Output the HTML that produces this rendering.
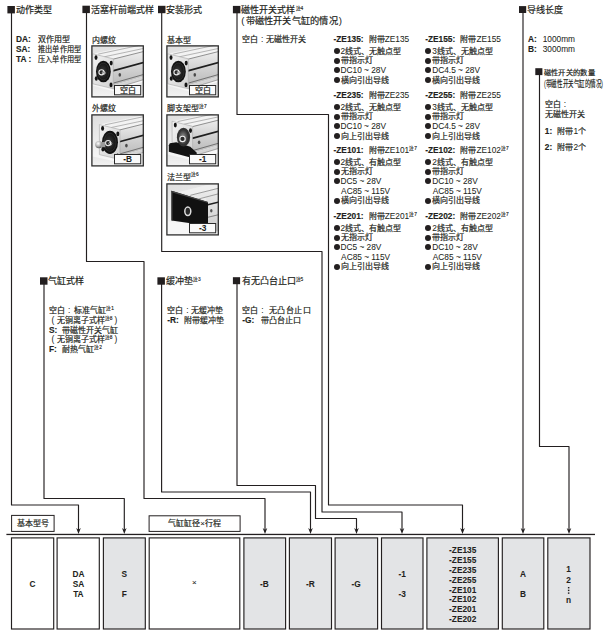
<!DOCTYPE html>
<html lang="zh-CN"><head><meta charset="utf-8"><title>C series model code</title><style>
html,body{margin:0;padding:0;background:#fff;}
body{width:605px;height:632px;position:relative;overflow:hidden;font-family:"Liberation Sans",sans-serif;color:#231f20;}
svg{position:absolute;left:0;top:0;}
.t{position:absolute;white-space:nowrap;line-height:1;-webkit-text-stroke:0.05px #231f20;}
b{-webkit-text-stroke:0.15px #231f20;}
b .k{-webkit-text-stroke:0.05px #231f20;}
.k{display:inline-block;white-space:nowrap;text-align:justify;text-align-last:justify;-webkit-text-stroke:0.2px #231f20;}
.sp{font-size:4.8px;font-weight:normal;-webkit-text-stroke:0.15px #231f20;vertical-align:top;position:relative;top:0.8px;margin-left:0.3px;}

.bu{display:inline-block;width:6px;height:6px;border-radius:50%;background:#231f20;margin-right:1px;vertical-align:-0.3px;}
.cl{display:inline-block;width:1em;text-align:center;}
.pc{display:inline-block;text-align:center;}
</style></head><body>
<svg width="605" height="632" viewBox="0 0 605 632"><defs>
<linearGradient id="bg" x1="0" y1="0" x2="0.3" y2="1">
 <stop offset="0" stop-color="#dedede"/><stop offset="0.55" stop-color="#eeeeee"/><stop offset="1" stop-color="#fbfbfb"/>
</linearGradient>
<linearGradient id="sd" x1="0" y1="0" x2="0" y2="1">
 <stop offset="0" stop-color="#f2f2f2"/><stop offset="1" stop-color="#cdcdcd"/>
</linearGradient>
<linearGradient id="sd2" x1="0" y1="0" x2="0" y2="1">
 <stop offset="0" stop-color="#dedede"/><stop offset="1" stop-color="#b9b9b9"/>
</linearGradient>
<linearGradient id="pl" x1="0" y1="0" x2="1" y2="1">
 <stop offset="0" stop-color="#f4f4f4"/><stop offset="1" stop-color="#cfcfcf"/>
</linearGradient>
<linearGradient id="gr" x1="0" y1="0" x2="0" y2="1">
 <stop offset="0" stop-color="#e4e4e4"/><stop offset="1" stop-color="#f3f3f3"/>
</linearGradient>
<radialGradient id="sph" cx="0.4" cy="0.35" r="0.7">
 <stop offset="0" stop-color="#ffffff"/><stop offset="0.55" stop-color="#b0b0b0"/><stop offset="1" stop-color="#4a4a4a"/>
</radialGradient>
<radialGradient id="dk" cx="0.45" cy="0.5" r="0.55">
 <stop offset="0" stop-color="#3c3c3c"/><stop offset="0.75" stop-color="#141414"/><stop offset="1" stop-color="#0c0c0c"/>
</radialGradient>
<radialGradient id="dk2" cx="0.45" cy="0.5" r="0.55">
 <stop offset="0" stop-color="#9a9a9a"/><stop offset="0.6" stop-color="#555"/><stop offset="1" stop-color="#2a2a2a"/>
</radialGradient>
</defs>
<path d="M11.5 12 L11.5 505 L78.5 505 L78.5 531" fill="none" stroke="#231f20" stroke-width="1.15" stroke-linejoin="round"/>
<path d="M78.5 534 L76.2 528.1 L78.5 529.7 L80.8 528.1 Z" fill="#231f20"/>
<path d="M86.5 12 L86.5 261.5 L144 261.5 L144 498.5 L265 498.5 L265 531" fill="none" stroke="#231f20" stroke-width="1.15" stroke-linejoin="round"/>
<path d="M265 534 L262.7 528.1 L265 529.7 L267.3 528.1 Z" fill="#231f20"/>
<path d="M161.7 12 L161.7 251.5 L322 251.5 L322 512 L402 512 L402 531" fill="none" stroke="#231f20" stroke-width="1.15" stroke-linejoin="round"/>
<path d="M402 534 L399.7 528.1 L402 529.7 L404.3 528.1 Z" fill="#231f20"/>
<path d="M237 12 L237 114.5 L328.5 114.5 L328.5 505 L462.5 505 L462.5 531" fill="none" stroke="#231f20" stroke-width="1.15" stroke-linejoin="round"/>
<path d="M462.5 534 L460.2 528.1 L462.5 529.7 L464.8 528.1 Z" fill="#231f20"/>
<path d="M523 12 L523 531" fill="none" stroke="#231f20" stroke-width="1.15" stroke-linejoin="round"/>
<path d="M523 534 L520.7 528.1 L523 529.7 L525.3 528.1 Z" fill="#231f20"/>
<path d="M539.5 74 L539.5 446.5 L569 446.5 L569 531" fill="none" stroke="#231f20" stroke-width="1.15" stroke-linejoin="round"/>
<path d="M569 534 L566.7 528.1 L569 529.7 L571.3 528.1 Z" fill="#231f20"/>
<path d="M44 283 L44 498.5 L124.3 498.5 L124.3 531" fill="none" stroke="#231f20" stroke-width="1.15" stroke-linejoin="round"/>
<path d="M124.3 534 L122 528.1 L124.3 529.7 L126.6 528.1 Z" fill="#231f20"/>
<path d="M161.6 283 L161.6 492 L310.5 492 L310.5 531" fill="none" stroke="#231f20" stroke-width="1.15" stroke-linejoin="round"/>
<path d="M310.5 534 L308.2 528.1 L310.5 529.7 L312.8 528.1 Z" fill="#231f20"/>
<path d="M237 283 L237 485.5 L315.5 485.5 L315.5 518.5 L356.5 518.5 L356.5 531" fill="none" stroke="#231f20" stroke-width="1.15" stroke-linejoin="round"/>
<path d="M356.5 534 L354.2 528.1 L356.5 529.7 L358.8 528.1 Z" fill="#231f20"/>
<rect x="6.4" y="533.8" width="588.6" height="1.3" fill="#231f20"/>
<rect x="7.4" y="6" width="7.5" height="7.4" fill="#231f20"/>
<rect x="82.4" y="5.7" width="7.5" height="7.4" fill="#231f20"/>
<rect x="158" y="5.8" width="7.5" height="7.4" fill="#231f20"/>
<rect x="232.9" y="5.9" width="7.5" height="7.4" fill="#231f20"/>
<rect x="519" y="6.1" width="7.2" height="6.9" fill="#231f20"/>
<rect x="535.3" y="68.2" width="7.1" height="6.9" fill="#231f20"/>
<rect x="40" y="277.3" width="7.5" height="7.4" fill="#231f20"/>
<rect x="157.4" y="277.3" width="7.5" height="7.4" fill="#231f20"/>
<rect x="232.9" y="277.2" width="7.2" height="7" fill="#231f20"/>
<rect x="11.5" y="537.9" width="42.2" height="91.1" fill="#fff" stroke="#231f20" stroke-width="1.15"/>
<rect x="57.1" y="537.9" width="42.2" height="91.1" fill="#fff" stroke="#231f20" stroke-width="1.15"/>
<rect x="103.4" y="537.9" width="41.9" height="91.1" fill="#e3e4e6" stroke="#231f20" stroke-width="1.15"/>
<rect x="149.2" y="537.9" width="90.6" height="91.1" fill="#fff" stroke="#231f20" stroke-width="1.15"/>
<rect x="243.9" y="537.9" width="41.7" height="91.1" fill="#e3e4e6" stroke="#231f20" stroke-width="1.15"/>
<rect x="289.4" y="537.9" width="42.1" height="91.1" fill="#e3e4e6" stroke="#231f20" stroke-width="1.15"/>
<rect x="335.1" y="537.9" width="42.5" height="91.1" fill="#e3e4e6" stroke="#231f20" stroke-width="1.15"/>
<rect x="381.5" y="537.9" width="41.5" height="91.1" fill="#e3e4e6" stroke="#231f20" stroke-width="1.15"/>
<rect x="426.9" y="537.9" width="71.5" height="91.1" fill="#e3e4e6" stroke="#231f20" stroke-width="1.15"/>
<rect x="502.3" y="537.9" width="41.5" height="91.1" fill="#e3e4e6" stroke="#231f20" stroke-width="1.15"/>
<rect x="547.8" y="537.9" width="42.2" height="91.1" fill="#e3e4e6" stroke="#231f20" stroke-width="1.15"/>
<rect x="11.6" y="515.4" width="42.5" height="16" fill="#fff" stroke="#231f20" stroke-width="1"/>
<rect x="149.1" y="515.8" width="91" height="15.6" fill="#fff" stroke="#231f20" stroke-width="1"/>
<g transform="translate(91.3 45.3)"><clipPath id="cpa"><rect x="0" y="0" width="52.6" height="52.2"/></clipPath><g clip-path="url(#cpa)"><rect x="0" y="0" width="52.6" height="52.2" fill="url(#bg)"/><path d="M0 40 L22 46 L53 36 L53 52 L0 52 Z" fill="url(#gr)"/><g transform="translate(0 0)"><path d="M1.5 8.5 L60 -4 L60 9 L22 18 L22 13.5 Z" fill="#f3f3f3"/><path d="M22 13.5 L60 4 L60 15 L22 25.5 Z" fill="url(#sd)"/><path d="M22 25.5 L60 15 L60 29 L22 40 Z" fill="url(#sd2)"/><path d="M22 40 L60 29 L60 32 L22 43.5 Z" fill="#d4d4d4"/><path d="M7 8.8 L60 -2.5 M13 11.5 L60 1.5" stroke="#8a8a8a" stroke-width="0.6" fill="none"/><path d="M22 13.8 L60 4.3" stroke="#6a6a6a" stroke-width="0.7" fill="none"/><path d="M21.5 25.6 L60 15.2" stroke="#1e1e1e" stroke-width="1.7" fill="none"/><path d="M22 37.8 L60 27" stroke="#5a5a5a" stroke-width="0.8" fill="none"/><path d="M22 43.5 L60 32" stroke="#777" stroke-width="0.6" fill="none"/><ellipse cx="28.5" cy="29.5" rx="1.3" ry="1.9" fill="#4a4a4a"/><path d="M1.5 8.5 L22 13.5 L22 43.5 L1.5 38.5 Z" fill="url(#pl)" stroke="#9a9a9a" stroke-width="0.5"/><ellipse cx="4.7" cy="12.3" rx="1.5" ry="2.3" fill="#151515"/><ellipse cx="19.9" cy="17.8" rx="1.5" ry="2.3" fill="#151515"/><ellipse cx="5.0" cy="33.2" rx="1.5" ry="2.3" fill="#151515"/><ellipse cx="19.7" cy="39.6" rx="1.5" ry="2.3" fill="#151515"/><ellipse cx="12.1" cy="26.2" rx="7.4" ry="10.8" fill="url(#dk)"/><ellipse cx="12.1" cy="26.2" rx="5.6" ry="8.4" fill="none" stroke="#3a3a3a" stroke-width="0.6"/><circle cx="10.2" cy="27" r="2.6" fill="#2a2a2a" stroke="#eeeeee" stroke-width="1.1"/><circle cx="12.4" cy="27.6" r="1.5" fill="none" stroke="#d0d0d0" stroke-width="0.8"/></g></g><rect x="0.6" y="0.6" width="51.4" height="51" fill="none" stroke="#2e2e2e" stroke-width="1.3"/><rect x="23.2" y="40.2" width="26.2" height="9.3" fill="#fafafa" stroke="#2a2a2a" stroke-width="1"/></g>
<g transform="translate(91.3 114.3)"><clipPath id="cpb"><rect x="0" y="0" width="52.6" height="52.2"/></clipPath><g clip-path="url(#cpb)"><rect x="0" y="0" width="52.6" height="52.2" fill="url(#bg)"/><path d="M0 42 L28 48 L53 40 L53 52 L0 52 Z" fill="url(#gr)"/><g transform="translate(6.6 1.8)"><path d="M1.5 8.5 L60 -4 L60 9 L22 18 L22 13.5 Z" fill="#f3f3f3"/><path d="M22 13.5 L60 4 L60 15 L22 25.5 Z" fill="url(#sd)"/><path d="M22 25.5 L60 15 L60 29 L22 40 Z" fill="url(#sd2)"/><path d="M22 40 L60 29 L60 32 L22 43.5 Z" fill="#d4d4d4"/><path d="M7 8.8 L60 -2.5 M13 11.5 L60 1.5" stroke="#8a8a8a" stroke-width="0.6" fill="none"/><path d="M22 13.8 L60 4.3" stroke="#6a6a6a" stroke-width="0.7" fill="none"/><path d="M21.5 25.6 L60 15.2" stroke="#1e1e1e" stroke-width="1.7" fill="none"/><path d="M22 37.8 L60 27" stroke="#5a5a5a" stroke-width="0.8" fill="none"/><path d="M22 43.5 L60 32" stroke="#777" stroke-width="0.6" fill="none"/><ellipse cx="28.5" cy="29.5" rx="1.3" ry="1.9" fill="#4a4a4a"/><path d="M1.5 8.5 L22 13.5 L22 43.5 L1.5 38.5 Z" fill="url(#pl)" stroke="#9a9a9a" stroke-width="0.5"/><ellipse cx="4.7" cy="12.3" rx="1.5" ry="2.3" fill="#151515"/><ellipse cx="19.9" cy="17.8" rx="1.5" ry="2.3" fill="#151515"/><ellipse cx="5.0" cy="33.2" rx="1.5" ry="2.3" fill="#151515"/><ellipse cx="19.7" cy="39.6" rx="1.5" ry="2.3" fill="#151515"/><ellipse cx="12.1" cy="26.2" rx="7.99" ry="11.66" fill="url(#dk)"/><ellipse cx="12.1" cy="26.2" rx="6.05" ry="9.07" fill="none" stroke="#3a3a3a" stroke-width="0.6"/><circle cx="10.2" cy="27" r="2.6" fill="#2a2a2a" stroke="#eeeeee" stroke-width="1.1"/><circle cx="12.4" cy="27.6" r="1.5" fill="none" stroke="#d0d0d0" stroke-width="0.8"/></g><circle cx="7.6" cy="30.3" r="3.7" fill="url(#sph)"/><path d="M9.5 28 L14 27.5 L14 33 L9.5 32.8 Z" fill="#9a9a9a"/></g><rect x="0.6" y="0.6" width="51.4" height="51" fill="none" stroke="#2e2e2e" stroke-width="1.3"/><rect x="23.2" y="40.2" width="26.2" height="9.3" fill="#fafafa" stroke="#2a2a2a" stroke-width="1"/></g>
<g transform="translate(166.3 45.3)"><clipPath id="cpc"><rect x="0" y="0" width="52.6" height="52.2"/></clipPath><g clip-path="url(#cpc)"><rect x="0" y="0" width="52.6" height="52.2" fill="url(#bg)"/><path d="M0 40 L22 46 L53 36 L53 52 L0 52 Z" fill="url(#gr)"/><g transform="translate(0 0)"><path d="M1.5 8.5 L60 -4 L60 9 L22 18 L22 13.5 Z" fill="#f3f3f3"/><path d="M22 13.5 L60 4 L60 15 L22 25.5 Z" fill="url(#sd)"/><path d="M22 25.5 L60 15 L60 29 L22 40 Z" fill="url(#sd2)"/><path d="M22 40 L60 29 L60 32 L22 43.5 Z" fill="#d4d4d4"/><path d="M7 8.8 L60 -2.5 M13 11.5 L60 1.5" stroke="#8a8a8a" stroke-width="0.6" fill="none"/><path d="M22 13.8 L60 4.3" stroke="#6a6a6a" stroke-width="0.7" fill="none"/><path d="M21.5 25.6 L60 15.2" stroke="#1e1e1e" stroke-width="1.7" fill="none"/><path d="M22 37.8 L60 27" stroke="#5a5a5a" stroke-width="0.8" fill="none"/><path d="M22 43.5 L60 32" stroke="#777" stroke-width="0.6" fill="none"/><ellipse cx="28.5" cy="29.5" rx="1.3" ry="1.9" fill="#4a4a4a"/><path d="M1.5 8.5 L22 13.5 L22 43.5 L1.5 38.5 Z" fill="url(#pl)" stroke="#9a9a9a" stroke-width="0.5"/><ellipse cx="4.7" cy="12.3" rx="1.5" ry="2.3" fill="#151515"/><ellipse cx="19.9" cy="17.8" rx="1.5" ry="2.3" fill="#151515"/><ellipse cx="5.0" cy="33.2" rx="1.5" ry="2.3" fill="#151515"/><ellipse cx="19.7" cy="39.6" rx="1.5" ry="2.3" fill="#151515"/><ellipse cx="12.1" cy="26.2" rx="7.4" ry="10.8" fill="url(#dk)"/><ellipse cx="12.1" cy="26.2" rx="5.6" ry="8.4" fill="none" stroke="#3a3a3a" stroke-width="0.6"/><circle cx="10.2" cy="27" r="2.6" fill="#2a2a2a" stroke="#eeeeee" stroke-width="1.1"/><circle cx="12.4" cy="27.6" r="1.5" fill="none" stroke="#d0d0d0" stroke-width="0.8"/></g></g><rect x="0.6" y="0.6" width="51.4" height="51" fill="none" stroke="#2e2e2e" stroke-width="1.3"/><rect x="23.2" y="40.2" width="26.2" height="9.3" fill="#fafafa" stroke="#2a2a2a" stroke-width="1"/></g>
<g transform="translate(166.3 114.3)"><clipPath id="cpd"><rect x="0" y="0" width="52.6" height="52.2"/></clipPath><g clip-path="url(#cpd)"><rect x="0" y="0" width="52.6" height="52.2" fill="url(#bg)"/><path d="M0 40 L26 46 L53 38 L53 52 L0 52 Z" fill="url(#gr)"/><g transform="translate(4.3 -1.5)"><path d="M1.5 8.5 L60 -4 L60 9 L22 18 L22 13.5 Z" fill="#f3f3f3"/><path d="M22 13.5 L60 4 L60 15 L22 25.5 Z" fill="url(#sd)"/><path d="M22 25.5 L60 15 L60 29 L22 40 Z" fill="url(#sd2)"/><path d="M22 40 L60 29 L60 32 L22 43.5 Z" fill="#d4d4d4"/><path d="M7 8.8 L60 -2.5 M13 11.5 L60 1.5" stroke="#8a8a8a" stroke-width="0.6" fill="none"/><path d="M22 13.8 L60 4.3" stroke="#6a6a6a" stroke-width="0.7" fill="none"/><path d="M21.5 25.6 L60 15.2" stroke="#1e1e1e" stroke-width="1.7" fill="none"/><path d="M22 37.8 L60 27" stroke="#5a5a5a" stroke-width="0.8" fill="none"/><path d="M22 43.5 L60 32" stroke="#777" stroke-width="0.6" fill="none"/><ellipse cx="28.5" cy="29.5" rx="1.3" ry="1.9" fill="#4a4a4a"/><path d="M1.5 8.5 L22 13.5 L22 43.5 L1.5 38.5 Z" fill="url(#pl)" stroke="#9a9a9a" stroke-width="0.5"/><ellipse cx="4.7" cy="12.3" rx="1.5" ry="2.3" fill="#151515"/><ellipse cx="19.9" cy="17.8" rx="1.5" ry="2.3" fill="#151515"/><ellipse cx="5.0" cy="33.2" rx="1.5" ry="2.3" fill="#151515"/><ellipse cx="19.7" cy="39.6" rx="1.5" ry="2.3" fill="#151515"/></g><path d="M3.5 29 L10 28 L24 32.5 L30.5 38.5 L30 43 L27 44 L2.5 37.5 L2.5 31 Z" fill="#121212"/><ellipse cx="17.2" cy="22.9" rx="6.6" ry="9.4" fill="#333"/><ellipse cx="17.2" cy="22.9" rx="5" ry="7.4" fill="url(#dk2)"/><circle cx="16.2" cy="24.6" r="2.7" fill="#2a2a2a" stroke="#eeeeee" stroke-width="1.1"/></g><rect x="0.6" y="0.6" width="51.4" height="51" fill="none" stroke="#2e2e2e" stroke-width="1.3"/><rect x="23.2" y="40.2" width="26.2" height="9.3" fill="#fafafa" stroke="#2a2a2a" stroke-width="1"/></g>
<g transform="translate(166.3 183.3)"><clipPath id="cpe"><rect x="0" y="0" width="52.6" height="52.2"/></clipPath><g clip-path="url(#cpe)"><rect x="0" y="0" width="52.6" height="52.2" fill="url(#bg)"/><path d="M0 38 L42 44 L53 44 L53 52 L0 52 Z" fill="#f7f7f7"/><path d="M12 9 L60 -3 L60 48 L40 48 L40 14 Z" fill="url(#sd)"/><path d="M12 9 L60 -3 L60 3 L26 12 Z" fill="#f0f0f0"/><path d="M24 12 L60 3 M31 16 L60 8.5" stroke="#7a7a7a" stroke-width="0.7" fill="none"/><path d="M41.5 21.5 L60 17" stroke="#1e1e1e" stroke-width="1.5" fill="none"/><path d="M41.5 34 L60 29.5" stroke="#6a6a6a" stroke-width="0.8" fill="none"/><ellipse cx="45" cy="27.5" rx="1.2" ry="1.8" fill="#555"/><path d="M5.2 7.5 L41.7 18.6 L41.7 42.5 L5.2 37.1 Z" fill="#111"/><path d="M5.2 7.5 L41.7 18.6 L41.7 19.8 L5.2 8.9 Z" fill="#454545"/><path d="M5.2 7.5 L6.4 8.2 L6.4 37.3 L5.2 37.1 Z" fill="#333"/><ellipse cx="21.5" cy="28" rx="3" ry="4.2" fill="#2a2a2a" stroke="#dcdcdc" stroke-width="1.5"/></g><rect x="0.6" y="0.6" width="51.4" height="51" fill="none" stroke="#2e2e2e" stroke-width="1.3"/><rect x="23.2" y="40.2" width="26.2" height="9.3" fill="#fafafa" stroke="#2a2a2a" stroke-width="1"/></g>
<rect x="567.9" y="587" width="1.5" height="1.4" fill="#231f20"/><rect x="567.9" y="589.7" width="1.5" height="1.4" fill="#231f20"/><rect x="567.9" y="592.4" width="1.5" height="1.4" fill="#231f20"/>
</svg>
<div class="t" style="left:114.6px;top:86.63px;width:26px;text-align:center;font-size:8px;"><span class="k" style="width:16px;font-size:8px">空白</span></div>
<div class="t" style="left:114.6px;top:155.37px;width:26px;text-align:center;font-size:8.3px;font-weight:bold;">-B</div>
<div class="t" style="left:189.6px;top:86.63px;width:26px;text-align:center;font-size:8px;"><span class="k" style="width:16px;font-size:8px">空白</span></div>
<div class="t" style="left:189.6px;top:155.37px;width:26px;text-align:center;font-size:8.3px;font-weight:bold;">-1</div>
<div class="t" style="left:189.6px;top:224.37px;width:26px;text-align:center;font-size:8.3px;font-weight:bold;">-3</div>
<div class="t" style="left:15.9px;top:5.87px;font-size:9.36px;"><span class="k" style="width:36px;font-size:9px">动作类型</span></div>
<div class="t" style="left:91px;top:5.87px;font-size:9.36px;"><span class="k" style="width:63px;font-size:9px">活塞杆前端式样</span></div>
<div class="t" style="left:166.3px;top:5.87px;font-size:9.36px;"><span class="k" style="width:36px;font-size:9px">安装形式</span></div>
<div class="t" style="left:241.3px;top:5.87px;font-size:9.36px;"><span class="k" style="width:54px;font-size:9px">磁性开关式样</span><span class="sp"><span class="k" style="width:4.8px;font-size:4.8px">注</span>4</span></div>
<div class="t" style="left:240px;top:15.7px;font-size:9.57px;"><span class="pc" style="width:5.5px">(</span><span class="k" style="width:92px;font-size:9.2px">带磁性开关气缸的情况</span><span class="pc" style="width:5.5px">)</span></div>
<div class="t" style="left:527px;top:5.87px;font-size:9.36px;"><span class="k" style="width:36px;font-size:9px">导线长度</span></div>
<div class="t" style="left:543.5px;top:68.77px;font-size:7.59px;"><span class="k" style="width:51.1px;font-size:7.3px">磁性开关的数量</span></div>
<div class="t" style="left:543.5px;top:78.7px;font-size:9.57px;transform:scaleX(0.6);transform-origin:0 0;">(<span class="k" style="width:92px;font-size:9.2px">带磁性开关气缸的情况</span>)</div>
<div class="t" style="left:16px;top:35.16px;font-size:8.32px;"><b>DA:</b></div>
<div class="t" style="left:37.8px;top:35.16px;font-size:8.32px;"><span class="k" style="width:32px;font-size:8px">双作用型</span></div>
<div class="t" style="left:16px;top:45.06px;font-size:8.32px;"><b>SA:</b></div>
<div class="t" style="left:37.8px;top:45.06px;font-size:8.32px;transform:scaleX(0.9);transform-origin:0 0;"><span class="k" style="width:48px;font-size:8px">推出单作用型</span></div>
<div class="t" style="left:16px;top:54.86px;font-size:8.32px;"><b>TA :</b></div>
<div class="t" style="left:37.8px;top:54.86px;font-size:8.32px;transform:scaleX(0.9);transform-origin:0 0;"><span class="k" style="width:48px;font-size:8px">压入单作用型</span></div>
<div class="t" style="left:92px;top:35.56px;font-size:8.32px;"><span class="k" style="width:24px;font-size:8px">内螺纹</span></div>
<div class="t" style="left:92px;top:104.36px;font-size:8.32px;"><span class="k" style="width:24px;font-size:8px">外螺纹</span></div>
<div class="t" style="left:167px;top:35.56px;font-size:8.32px;"><span class="k" style="width:24px;font-size:8px">基本型</span></div>
<div class="t" style="left:167px;top:104.36px;font-size:8.32px;"><span class="k" style="width:32px;font-size:8px">脚支架型</span><span class="sp"><span class="k" style="width:4.8px;font-size:4.8px">注</span>7</span></div>
<div class="t" style="left:167px;top:172.56px;font-size:8.32px;"><span class="k" style="width:24px;font-size:8px">法兰型</span><span class="sp"><span class="k" style="width:4.8px;font-size:4.8px">注</span>6</span></div>
<div class="t" style="left:241.9px;top:35.16px;font-size:8.32px;"><span class="k" style="width:16px;font-size:8px">空白</span><span class="cl">:</span></div>
<div class="t" style="left:265.9px;top:35.16px;font-size:8.32px;"><span class="k" style="width:40px;font-size:8px">无磁性开关</span></div>
<div class="t" style="left:333.5px;top:35.06px;font-size:8.32px;"><b>-ZE135:</b></div>
<div class="t" style="left:368.7px;top:35.06px;font-size:8.32px;"><span class="k" style="width:16px;font-size:8px">附带</span>ZE135</div>
<div class="t" style="left:333.5px;top:46.66px;font-size:8.32px;"><span class="bu"></span>2<span class="k" style="width:56px;font-size:8px">线式、无触点型</span></div>
<div class="t" style="left:333.5px;top:56.36px;font-size:8.32px;"><span class="bu"></span><span class="k" style="width:32px;font-size:8px">带指示灯</span></div>
<div class="t" style="left:333.5px;top:66.06px;font-size:8.32px;"><span class="bu"></span>DC10 ~ 28V</div>
<div class="t" style="left:333.5px;top:75.76px;font-size:8.32px;"><span class="bu"></span><span class="k" style="width:48px;font-size:8px">横向引出导线</span></div>
<div class="t" style="left:425.2px;top:35.06px;font-size:8.32px;"><b>-ZE155:</b></div>
<div class="t" style="left:460.4px;top:35.06px;font-size:8.32px;"><span class="k" style="width:16px;font-size:8px">附带</span>ZE155</div>
<div class="t" style="left:425.2px;top:46.66px;font-size:8.32px;"><span class="bu"></span>3<span class="k" style="width:56px;font-size:8px">线式、无触点型</span></div>
<div class="t" style="left:425.2px;top:56.36px;font-size:8.32px;"><span class="bu"></span><span class="k" style="width:32px;font-size:8px">带指示灯</span></div>
<div class="t" style="left:425.2px;top:66.06px;font-size:8.32px;"><span class="bu"></span>DC4.5 ~ 28V</div>
<div class="t" style="left:425.2px;top:75.76px;font-size:8.32px;"><span class="bu"></span><span class="k" style="width:48px;font-size:8px">横向引出导线</span></div>
<div class="t" style="left:333.5px;top:90.96px;font-size:8.32px;"><b>-ZE235:</b></div>
<div class="t" style="left:368.7px;top:90.96px;font-size:8.32px;"><span class="k" style="width:16px;font-size:8px">附带</span>ZE235</div>
<div class="t" style="left:333.5px;top:102.56px;font-size:8.32px;"><span class="bu"></span>2<span class="k" style="width:56px;font-size:8px">线式、无触点型</span></div>
<div class="t" style="left:333.5px;top:112.26px;font-size:8.32px;"><span class="bu"></span><span class="k" style="width:32px;font-size:8px">带指示灯</span></div>
<div class="t" style="left:333.5px;top:121.96px;font-size:8.32px;"><span class="bu"></span>DC10 ~ 28V</div>
<div class="t" style="left:333.5px;top:131.66px;font-size:8.32px;"><span class="bu"></span><span class="k" style="width:48px;font-size:8px">向上引出导线</span></div>
<div class="t" style="left:425.2px;top:90.96px;font-size:8.32px;"><b>-ZE255:</b></div>
<div class="t" style="left:460.4px;top:90.96px;font-size:8.32px;"><span class="k" style="width:16px;font-size:8px">附带</span>ZE255</div>
<div class="t" style="left:425.2px;top:102.56px;font-size:8.32px;"><span class="bu"></span>3<span class="k" style="width:56px;font-size:8px">线式、无触点型</span></div>
<div class="t" style="left:425.2px;top:112.26px;font-size:8.32px;"><span class="bu"></span><span class="k" style="width:32px;font-size:8px">带指示灯</span></div>
<div class="t" style="left:425.2px;top:121.96px;font-size:8.32px;"><span class="bu"></span>DC4.5 ~ 28V</div>
<div class="t" style="left:425.2px;top:131.66px;font-size:8.32px;"><span class="bu"></span><span class="k" style="width:48px;font-size:8px">向上引出导线</span></div>
<div class="t" style="left:333.5px;top:145.96px;font-size:8.32px;"><b>-ZE101:</b></div>
<div class="t" style="left:368.7px;top:145.96px;font-size:8.32px;"><span class="k" style="width:16px;font-size:8px">附带</span>ZE101<span class="sp"><span class="k" style="width:4.8px;font-size:4.8px">注</span>7</span></div>
<div class="t" style="left:333.5px;top:157.56px;font-size:8.32px;"><span class="bu"></span>2<span class="k" style="width:56px;font-size:8px">线式、有触点型</span></div>
<div class="t" style="left:333.5px;top:167.26px;font-size:8.32px;"><span class="bu"></span><span class="k" style="width:32px;font-size:8px">无指示灯</span></div>
<div class="t" style="left:333.5px;top:176.96px;font-size:8.32px;"><span class="bu"></span>DC5 ~ 28V</div>
<div class="t" style="left:341.1px;top:186.66px;font-size:8.32px;">AC85 ~ 115V</div>
<div class="t" style="left:333.5px;top:196.36px;font-size:8.32px;"><span class="bu"></span><span class="k" style="width:48px;font-size:8px">横向引出导线</span></div>
<div class="t" style="left:425.2px;top:145.96px;font-size:8.32px;"><b>-ZE102:</b></div>
<div class="t" style="left:460.4px;top:145.96px;font-size:8.32px;"><span class="k" style="width:16px;font-size:8px">附带</span>ZE102<span class="sp"><span class="k" style="width:4.8px;font-size:4.8px">注</span>7</span></div>
<div class="t" style="left:425.2px;top:157.56px;font-size:8.32px;"><span class="bu"></span>2<span class="k" style="width:56px;font-size:8px">线式、有触点型</span></div>
<div class="t" style="left:425.2px;top:167.26px;font-size:8.32px;"><span class="bu"></span><span class="k" style="width:32px;font-size:8px">带指示灯</span></div>
<div class="t" style="left:425.2px;top:176.96px;font-size:8.32px;"><span class="bu"></span>DC10 ~ 28V</div>
<div class="t" style="left:432.8px;top:186.66px;font-size:8.32px;">AC85 ~ 115V</div>
<div class="t" style="left:425.2px;top:196.36px;font-size:8.32px;"><span class="bu"></span><span class="k" style="width:48px;font-size:8px">横向引出导线</span></div>
<div class="t" style="left:333.5px;top:211.96px;font-size:8.32px;"><b>-ZE201:</b></div>
<div class="t" style="left:368.7px;top:211.96px;font-size:8.32px;"><span class="k" style="width:16px;font-size:8px">附带</span>ZE201<span class="sp"><span class="k" style="width:4.8px;font-size:4.8px">注</span>7</span></div>
<div class="t" style="left:333.5px;top:223.56px;font-size:8.32px;"><span class="bu"></span>2<span class="k" style="width:56px;font-size:8px">线式、有触点型</span></div>
<div class="t" style="left:333.5px;top:233.26px;font-size:8.32px;"><span class="bu"></span><span class="k" style="width:32px;font-size:8px">无指示灯</span></div>
<div class="t" style="left:333.5px;top:242.96px;font-size:8.32px;"><span class="bu"></span>DC5 ~ 28V</div>
<div class="t" style="left:341.1px;top:252.66px;font-size:8.32px;">AC85 ~ 115V</div>
<div class="t" style="left:333.5px;top:262.36px;font-size:8.32px;"><span class="bu"></span><span class="k" style="width:48px;font-size:8px">向上引出导线</span></div>
<div class="t" style="left:425.2px;top:211.96px;font-size:8.32px;"><b>-ZE202:</b></div>
<div class="t" style="left:460.4px;top:211.96px;font-size:8.32px;"><span class="k" style="width:16px;font-size:8px">附带</span>ZE202<span class="sp"><span class="k" style="width:4.8px;font-size:4.8px">注</span>7</span></div>
<div class="t" style="left:425.2px;top:223.56px;font-size:8.32px;"><span class="bu"></span>2<span class="k" style="width:56px;font-size:8px">线式、有触点型</span></div>
<div class="t" style="left:425.2px;top:233.26px;font-size:8.32px;"><span class="bu"></span><span class="k" style="width:32px;font-size:8px">带指示灯</span></div>
<div class="t" style="left:425.2px;top:242.96px;font-size:8.32px;"><span class="bu"></span>DC10 ~ 28V</div>
<div class="t" style="left:432.8px;top:252.66px;font-size:8.32px;">AC85 ~ 115V</div>
<div class="t" style="left:425.2px;top:262.36px;font-size:8.32px;"><span class="bu"></span><span class="k" style="width:48px;font-size:8px">向上引出导线</span></div>
<div class="t" style="left:528px;top:35.16px;font-size:8.32px;"><b>A:</b></div>
<div class="t" style="left:542.7px;top:35.16px;font-size:8.32px;">1000mm</div>
<div class="t" style="left:528px;top:45.06px;font-size:8.32px;"><b>B:</b></div>
<div class="t" style="left:542.7px;top:45.06px;font-size:8.32px;">3000mm</div>
<div class="t" style="left:544.8px;top:100.16px;font-size:8.32px;"><span class="k" style="width:16px;font-size:8px">空白</span><span class="cl">:</span></div>
<div class="t" style="left:544.8px;top:110.36px;font-size:8.32px;"><span class="k" style="width:40px;font-size:8px">无磁性开关</span></div>
<div class="t" style="left:544.8px;top:126.96px;font-size:8.32px;"><b>1:</b></div>
<div class="t" style="left:557.4px;top:126.96px;font-size:8.32px;"><span class="k" style="width:16px;font-size:8px">附带</span>1<span class="k" style="width:8px;font-size:8px">个</span></div>
<div class="t" style="left:544.8px;top:142.76px;font-size:8.32px;"><b>2:</b></div>
<div class="t" style="left:557.4px;top:142.76px;font-size:8.32px;"><span class="k" style="width:16px;font-size:8px">附带</span>2<span class="k" style="width:8px;font-size:8px">个</span></div>
<div class="t" style="left:48.2px;top:276.77px;font-size:9.36px;"><span class="k" style="width:36px;font-size:9px">气缸式样</span></div>
<div class="t" style="left:165.8px;top:276.77px;font-size:9.36px;"><span class="k" style="width:27px;font-size:9px">缓冲垫</span><span class="sp"><span class="k" style="width:4.8px;font-size:4.8px">注</span>3</span></div>
<div class="t" style="left:241.5px;top:276.77px;font-size:9.36px;"><span class="k" style="width:54px;font-size:9px">有无凸台止口</span><span class="sp"><span class="k" style="width:4.8px;font-size:4.8px">注</span>5</span></div>
<div class="t" style="left:49px;top:305.86px;font-size:8.32px;"><span class="k" style="width:16px;font-size:8px">空白</span><span class="cl">:</span></div>
<div class="t" style="left:74.1px;top:305.86px;font-size:8.32px;"><span class="k" style="width:32px;font-size:8px">标准气缸</span><span class="sp"><span class="k" style="width:4.8px;font-size:4.8px">注</span>1</span></div>
<div class="t" style="left:49px;top:315.76px;font-size:8.32px;"><span class="pc" style="width:7.7px">(</span><span class="k" style="width:48px;font-size:8px">无铜离子式样</span><span class="sp"><span class="k" style="width:4.8px;font-size:4.8px">注</span>8</span><span class="pc" style="width:7px">)</span></div>
<div class="t" style="left:49px;top:325.56px;font-size:8.32px;"><b>S:</b></div>
<div class="t" style="left:62.2px;top:325.56px;font-size:8.32px;"><span class="k" style="width:56px;font-size:8px">带磁性开关气缸</span></div>
<div class="t" style="left:49px;top:335.36px;font-size:8.32px;"><span class="pc" style="width:7.7px">(</span><span class="k" style="width:48px;font-size:8px">无铜离子式样</span><span class="sp"><span class="k" style="width:4.8px;font-size:4.8px">注</span>8</span><span class="pc" style="width:7px">)</span></div>
<div class="t" style="left:49px;top:345.16px;font-size:8.32px;"><b>F:</b></div>
<div class="t" style="left:62.2px;top:345.16px;font-size:8.32px;"><span class="k" style="width:32px;font-size:8px">耐热气缸</span><span class="sp"><span class="k" style="width:4.8px;font-size:4.8px">注</span>2</span></div>
<div class="t" style="left:167.2px;top:305.86px;font-size:8.32px;"><span class="k" style="width:16px;font-size:8px">空白</span><span class="cl">:</span></div>
<div class="t" style="left:191.4px;top:305.86px;font-size:8.32px;"><span class="k" style="width:32px;font-size:8px">无缓冲垫</span></div>
<div class="t" style="left:167.2px;top:315.66px;font-size:8.32px;"><b>-R:</b></div>
<div class="t" style="left:183.8px;top:315.66px;font-size:8.32px;"><span class="k" style="width:40px;font-size:8px">附带缓冲垫</span></div>
<div class="t" style="left:242.3px;top:305.96px;font-size:8.32px;"><span class="k" style="width:16px;font-size:8px">空白</span><span class="cl">:</span></div>
<div class="t" style="left:268.7px;top:305.96px;font-size:8.32px;letter-spacing:0.6px;"><span class="k" style="width:40px;font-size:8px">无凸台止口</span></div>
<div class="t" style="left:242.3px;top:315.76px;font-size:8.32px;"><b>-G:</b></div>
<div class="t" style="left:260.8px;top:315.76px;font-size:8.32px;"><span class="k" style="width:40px;font-size:8px">带凸台止口</span></div>
<div class="t" style="left:11.8px;top:519.83px;width:42px;text-align:center;font-size:8px;"><span class="k" style="width:32px;font-size:8px">基本型号</span></div>
<div class="t" style="left:149.5px;top:520.03px;width:90px;text-align:center;font-size:8px;"><span class="k" style="width:32px;font-size:8px">气缸缸径</span>×<span class="k" style="width:16px;font-size:8px">行程</span></div>
<div class="t" style="left:2.6px;top:580.17px;width:60px;text-align:center;font-size:8.3px;font-weight:bold;">C</div>
<div class="t" style="left:48.4px;top:570.17px;width:60px;text-align:center;font-size:8.3px;font-weight:bold;">DA</div>
<div class="t" style="left:48.4px;top:580.17px;width:60px;text-align:center;font-size:8.3px;font-weight:bold;">SA</div>
<div class="t" style="left:48.4px;top:590.17px;width:60px;text-align:center;font-size:8.3px;font-weight:bold;">TA</div>
<div class="t" style="left:94.3px;top:569.97px;width:60px;text-align:center;font-size:8.3px;font-weight:bold;">S</div>
<div class="t" style="left:94.3px;top:590.17px;width:60px;text-align:center;font-size:8.3px;font-weight:bold;">F</div>
<div class="t" style="left:164.4px;top:579.43px;width:60px;text-align:center;font-size:8px;">×</div>
<div class="t" style="left:234.4px;top:580.17px;width:60px;text-align:center;font-size:8.3px;font-weight:bold;">-B</div>
<div class="t" style="left:280.5px;top:580.17px;width:60px;text-align:center;font-size:8.3px;font-weight:bold;">-R</div>
<div class="t" style="left:326.2px;top:580.17px;width:60px;text-align:center;font-size:8.3px;font-weight:bold;">-G</div>
<div class="t" style="left:372.2px;top:570.37px;width:60px;text-align:center;font-size:8.3px;font-weight:bold;">-1</div>
<div class="t" style="left:372.2px;top:590.37px;width:60px;text-align:center;font-size:8.3px;font-weight:bold;">-3</div>
<div class="t" style="left:432.7px;top:546.37px;width:60px;text-align:center;font-size:8.3px;font-weight:bold;">-ZE135</div>
<div class="t" style="left:432.7px;top:556.17px;width:60px;text-align:center;font-size:8.3px;font-weight:bold;">-ZE155</div>
<div class="t" style="left:432.7px;top:565.97px;width:60px;text-align:center;font-size:8.3px;font-weight:bold;">-ZE235</div>
<div class="t" style="left:432.7px;top:575.77px;width:60px;text-align:center;font-size:8.3px;font-weight:bold;">-ZE255</div>
<div class="t" style="left:432.7px;top:585.57px;width:60px;text-align:center;font-size:8.3px;font-weight:bold;">-ZE101</div>
<div class="t" style="left:432.7px;top:595.37px;width:60px;text-align:center;font-size:8.3px;font-weight:bold;">-ZE102</div>
<div class="t" style="left:432.7px;top:605.17px;width:60px;text-align:center;font-size:8.3px;font-weight:bold;">-ZE201</div>
<div class="t" style="left:432.7px;top:614.97px;width:60px;text-align:center;font-size:8.3px;font-weight:bold;">-ZE202</div>
<div class="t" style="left:493px;top:570.17px;width:60px;text-align:center;font-size:8.3px;font-weight:bold;">A</div>
<div class="t" style="left:493px;top:590.17px;width:60px;text-align:center;font-size:8.3px;font-weight:bold;">B</div>
<div class="t" style="left:538.6px;top:565.17px;width:60px;text-align:center;font-size:8.3px;font-weight:bold;">1</div>
<div class="t" style="left:538.6px;top:575.57px;width:60px;text-align:center;font-size:8.3px;font-weight:bold;">2</div>
<div class="t" style="left:538.6px;top:595.77px;width:60px;text-align:center;font-size:8.3px;font-weight:bold;">n</div>
</body></html>
